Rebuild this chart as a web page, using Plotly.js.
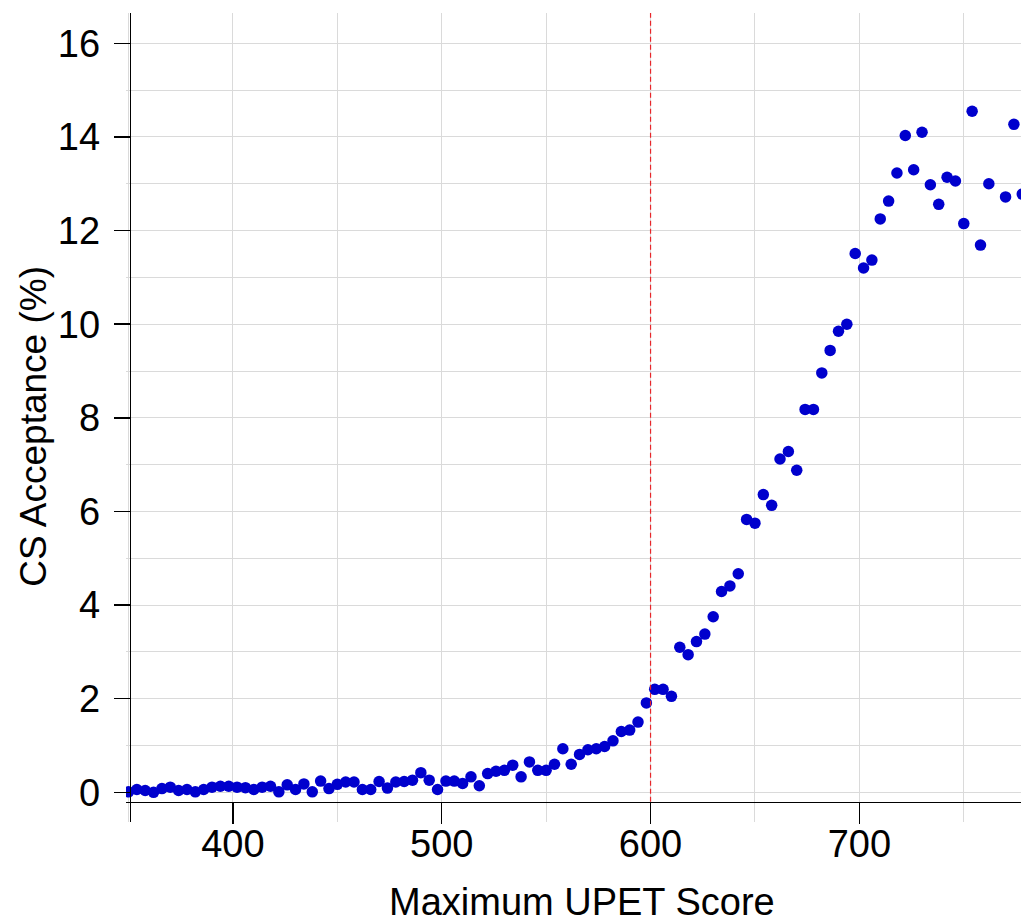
<!DOCTYPE html>
<html>
<head>
<meta charset="utf-8">
<script src="https://cdn.plot.ly/plotly-3.0.1.min.js"></script>
<style>
  html, body { margin: 0; padding: 0; background: #ffffff; }
  #chart { width: 1021px; height: 919px; }
</style>
</head>
<body>
<div id="chart"></div>
<script>
// Maximum UPET score (bin) — value 766 is absent in the reference
const upetScore = [
  350, 354, 358, 362, 366, 370, 374, 378, 382, 386,
  390, 394, 398, 402, 406, 410, 414, 418, 422, 426,
  430, 434, 438, 442, 446, 450, 454, 458, 462, 466,
  470, 474, 478, 482, 486, 490, 494, 498, 502, 506,
  510, 514, 518, 522, 526, 530, 534, 538, 542, 546,
  550, 554, 558, 562, 566, 570, 574, 578, 582, 586,
  590, 594, 598, 602, 606, 610, 614, 618, 622, 626,
  630, 634, 638, 642, 646, 650, 654, 658, 662, 666,
  670, 674, 678, 682, 686, 690, 694, 698, 702, 706,
  710, 714, 718, 722, 726, 730, 734, 738, 742, 746,
  750, 754, 758, 762, 770, 774, 778
];

// CS acceptance (%)
const csAcceptance = [
  0.01, 0.06, 0.04, 0.00, 0.08, 0.11, 0.04, 0.06, 0.01, 0.06,
  0.11, 0.13, 0.13, 0.11, 0.10, 0.06, 0.11, 0.13, 0.01, 0.16,
  0.06, 0.18, 0.01, 0.24, 0.08, 0.17, 0.22, 0.22, 0.06, 0.06,
  0.23, 0.09, 0.22, 0.23, 0.26, 0.42, 0.26, 0.06, 0.24, 0.24,
  0.19, 0.33, 0.14, 0.40, 0.45, 0.47, 0.58, 0.33, 0.65, 0.47,
  0.47, 0.60, 0.93, 0.60, 0.81, 0.91, 0.93, 0.98, 1.10, 1.30,
  1.33, 1.50, 1.91, 2.20, 2.20, 2.05, 3.10, 2.94, 3.22, 3.38,
  3.75, 4.29, 4.41, 4.67, 5.83, 5.75, 6.36, 6.13, 7.12, 7.28,
  6.88, 8.18, 8.18, 8.96, 9.44, 9.85, 10.00, 11.51, 11.20, 11.37,
  12.25, 12.63, 13.23, 14.03, 13.30, 14.10, 12.98, 12.56, 13.14, 13.06,
  12.15, 14.55, 11.69, 13.00, 12.72, 14.27, 12.78
];

const cutoffScore = 600;
const xTickVals = [400, 500, 600, 700];
const yTickVals = [0, 2, 4, 6, 8, 10, 12, 14, 16];

const FONT = 'Liberation Sans, Arial, sans-serif';
const GRID = '#dadada';

const trace = {
  type: 'scatter',
  mode: 'markers',
  x: upetScore,
  y: csAcceptance,
  marker: { color: '#0000cd', size: 11.5, line: { width: 0 } },
  hoverinfo: 'x+y',
  cliponaxis: true
};

const layout = {
  width: 1021,
  height: 919,
  margin: { l: 126, r: 0, t: 13, b: 97, pad: 0 },
  paper_bgcolor: '#ffffff',
  plot_bgcolor: '#ffffff',
  showlegend: false,
  font: { family: FONT, size: 38, color: '#000000' },
  xaxis: {
    range: [348.8, 777.4],
    tickvals: xTickVals,
    ticktext: xTickVals.map(String),
    ticks: 'outside',
    ticklen: 21,
    tickwidth: 1.5,
    tickcolor: '#000000',
    ticklabelstandoff: -13,
    showline: true,
    linecolor: '#000000',
    linewidth: 1.5,
    anchor: 'free',
    position: 0.0251,
    showgrid: true,
    gridcolor: GRID,
    gridwidth: 1,
    zeroline: false,
    minor: { dtick: 50, tick0: 0, showgrid: true, gridcolor: GRID, gridwidth: 1, ticks: '' },
    tickfont: { family: FONT, size: 38, color: '#000000' },
    fixedrange: true
  },
  yaxis: {
    range: [-0.634, 16.648],
    tickvals: yTickVals,
    ticktext: yTickVals.map(String),
    ticks: 'outside',
    ticklen: 16,
    tickwidth: 1.5,
    tickcolor: '#000000',
    ticklabelstandoff: 6,
    showline: true,
    linecolor: '#000000',
    linewidth: 1.5,
    anchor: 'free',
    position: 0.00413,
    showgrid: true,
    gridcolor: GRID,
    gridwidth: 1,
    zeroline: false,
    minor: { dtick: 1, tick0: 0, showgrid: true, gridcolor: GRID, gridwidth: 1, ticks: '' },
    tickfont: { family: FONT, size: 38, color: '#000000' },
    fixedrange: true
  },
  shapes: [{
    type: 'line',
    xref: 'x', yref: 'paper',
    x0: cutoffScore, x1: cutoffScore,
    y0: 0.0251, y1: 1,
    line: { color: '#e8262a', width: 1.2, dash: '5px,3px' }
  }],
  annotations: [
    {
      text: 'Maximum UPET Score',
      xref: 'paper', yref: 'paper',
      x: 0.509, y: -0.0985,
      xanchor: 'center', yanchor: 'middle',
      showarrow: false,
      font: { family: FONT, size: 38, color: '#000000' }
    },
    {
      text: 'CS Acceptance (%)',
      xref: 'paper', yref: 'paper',
      x: -0.103, y: 0.4895,
      xanchor: 'center', yanchor: 'middle',
      textangle: -90,
      showarrow: false,
      font: { family: FONT, size: 37, color: '#000000' }
    }
  ]
};

Plotly.newPlot('chart', [trace], layout, { displayModeBar: false, staticPlot: true });
</script>
</body>
</html>
